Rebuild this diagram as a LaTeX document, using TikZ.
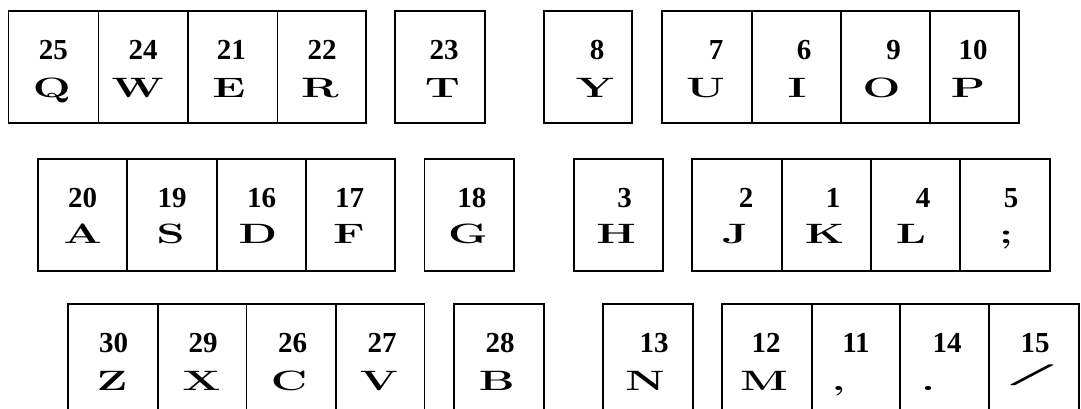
\documentclass[tikz,border=0pt]{standalone}
\usepackage{fontspec}
\newfontfamily\numfont{Liberation Serif}
\newcommand\kbkey[8]{%
  \node[keybox, minimum width={(#3-#2)*1pt}] (k#1) at (#2,\ytop) {};
  \node[numtxt] (n#1) at (#6,\ynum) {#5};
  \node[lettxt] (l#1) at (#8,\ylet) {\scalebox{1.6}[1]{#7}};
}
\begin{document}
\begin{tikzpicture}[x=1pt,y=-1pt,
  keybox/.style={draw, line width=1.8pt, rectangle, minimum height=112pt, inner sep=0pt, anchor=north west},
  numtxt/.style={font=\numfont\bfseries\fontsize{29}{30}\selectfont, anchor=base, inner sep=0pt},
  lettxt/.style={font=\fontsize{28}{30}\selectfont\bfseries, anchor=base, inner sep=0pt}]
\useasboundingbox (0,0) rectangle (1081,409);
\fill[white] (0,0) rectangle (1081,409);
\clip (0,0) rectangle (1081,409);
% row 1
\def\ytop{10.3}\def\ynum{59.2}\def\ylet{98}
\kbkey{Q}{7.6}{97.5}{}{25}{53.4}{Q}{51.7}
\kbkey{W}{97.5}{187}{}{24}{143}{W}{137.7}
\kbkey{E}{187}{276.5}{}{21}{231.4}{E}{229}
\kbkey{R}{276.5}{365}{}{22}{322}{R}{320}
\kbkey{T}{394}{484}{}{23}{444}{T}{442.5}
\kbkey{Y}{543.4}{631}{}{8}{597}{Y}{595}
\kbkey{U}{661}{751}{}{7}{716}{U}{705.6}
\kbkey{I}{751}{840}{}{6}{804}{I}{797}
\kbkey{O}{840}{929}{}{9}{893.7}{O}{881.6}
\kbkey{P}{929}{1018}{}{10}{973}{P}{968}
% row 2
\def\ytop{158}\def\ynum{207.5}\def\ylet{243.6}
\kbkey{A}{37}{126}{}{20}{82.6}{A}{82.6}
\kbkey{S}{126}{216}{}{19}{172}{S}{170.5}
\kbkey{D}{216}{305}{}{16}{261.7}{D}{258}
\kbkey{F}{305}{394}{}{17}{349.5}{F}{349}
\kbkey{G}{423.5}{513}{}{18}{471.8}{G}{468}
\kbkey{H}{573}{662}{}{3}{624.5}{H}{616}
\kbkey{J}{691}{781}{}{2}{746}{J}{735}
\kbkey{K}{781}{870}{}{1}{833}{K}{824.7}
\kbkey{L}{870}{959}{}{4}{923}{L}{911}
\kbkey{Semi}{959}{1049}{}{5}{1011}{;}{1006}
% row 3
\def\ytop{303}\def\ynum{352.6}\def\ylet{390.5}
\kbkey{Z}{67}{157}{}{30}{113.6}{Z}{112}
\kbkey{X}{157}{245.5}{}{29}{203}{X}{201.5}
\kbkey{C}{245.5}{335}{}{26}{292.7}{C}{289}
\kbkey{V}{335}{423.5}{}{27}{382}{V}{379}
\kbkey{B}{453}{543}{}{28}{500}{B}{496.7}
\kbkey{N}{602}{692}{}{13}{654}{N}{645}
\kbkey{M}{721}{811}{}{12}{766}{M}{764}
\kbkey{Comma}{811}{899}{}{11}{856}{,}{838.5}
\kbkey{Period}{899}{988}{}{14}{947}{.}{928}
\kbkey{Slash}{988}{1078}{}{15}{1035}{\raisebox{10.5pt}{\scalebox{2.2}[0.75]{/}}}{1032}
\end{tikzpicture}
\end{document}
